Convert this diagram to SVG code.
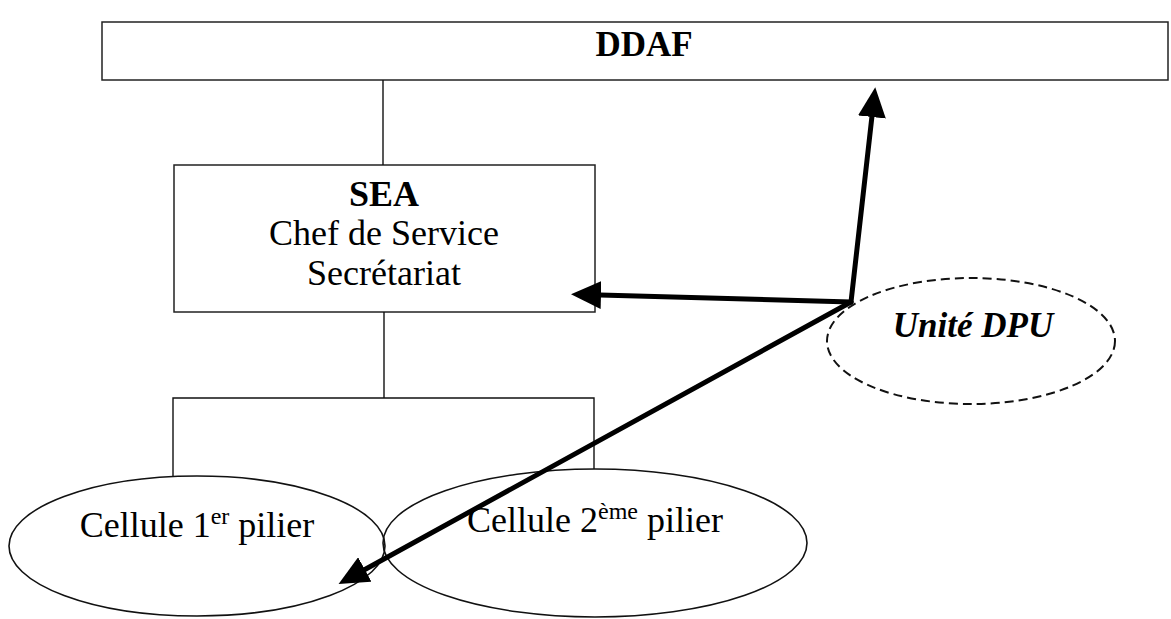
<svg xmlns="http://www.w3.org/2000/svg" width="1171" height="619" viewBox="0 0 1171 619">
  <style>
    .box { fill: #ffffff; stroke: #222222; stroke-width: 1.5; }
    .thin { fill: none; stroke: #111111; stroke-width: 1.4; }
    .cell { fill: none; stroke: #111111; stroke-width: 1.6; }
    .dash { fill: none; stroke: #111111; stroke-width: 2; stroke-dasharray: 9 5; }
    .arrow { fill: none; stroke: #000000; stroke-width: 5; stroke-linecap: round; marker-end: url(#head); }
    .t { font-family: "Liberation Serif", "Times New Roman", serif; fill: #000000; text-anchor: middle; }
  </style>
  <defs>
    <marker id="head" markerUnits="userSpaceOnUse" viewBox="0 0 30 28" markerWidth="30" markerHeight="28" refX="1" refY="14" orient="auto">
      <path d="M0,0 L30,14 L0,28 z" fill="#000000"/>
    </marker>
  </defs>

  <g id="ddaf">
    <rect class="box" x="102" y="22" width="1066" height="58"/>
    <text class="t" x="644" y="56" font-size="35" font-weight="bold">DDAF</text>
  </g>

  <g id="sea">
    <rect class="box" x="174" y="165" width="421" height="147"/>
    <text class="t" x="384" y="206" font-size="36" font-weight="bold">SEA</text>
    <text class="t" x="384" y="245" font-size="36">Chef de Service</text>
    <text class="t" x="384" y="285" font-size="36">Secrétariat</text>
  </g>

  <g id="cellule1">
    <ellipse class="cell" cx="197" cy="546" rx="188" ry="70"/>
    <text class="t" x="197" y="537" font-size="36">Cellule 1<tspan font-size="24" dy="-13">er</tspan><tspan dy="13"> pilier</tspan></text>
  </g>

  <g id="cellule2">
    <ellipse class="cell" cx="595" cy="543" rx="212" ry="74"/>
    <text class="t" x="595" y="532" font-size="36">Cellule 2<tspan font-size="24" dy="-13">ème</tspan><tspan dy="13"> pilier</tspan></text>
  </g>

  <g id="unite-dpu">
    <ellipse class="dash" cx="971" cy="341" rx="144" ry="63"/>
    <text class="t" x="973" y="337" font-size="35" font-weight="bold" font-style="italic">Unité DPU</text>
  </g>

  <g id="connectors">
    <line class="thin" x1="383" y1="80" x2="383" y2="165"/>
    <line class="thin" x1="384" y1="312" x2="384" y2="398"/>
    <polyline class="thin" points="173,477 173,398 594,398 594,469"/>
    <line class="arrow" x1="851" y1="302" x2="872" y2="116"/>
    <line class="arrow" x1="851" y1="302" x2="600" y2="295"/>
    <line class="arrow" x1="851" y1="302" x2="364" y2="570"/>
  </g>
</svg>
